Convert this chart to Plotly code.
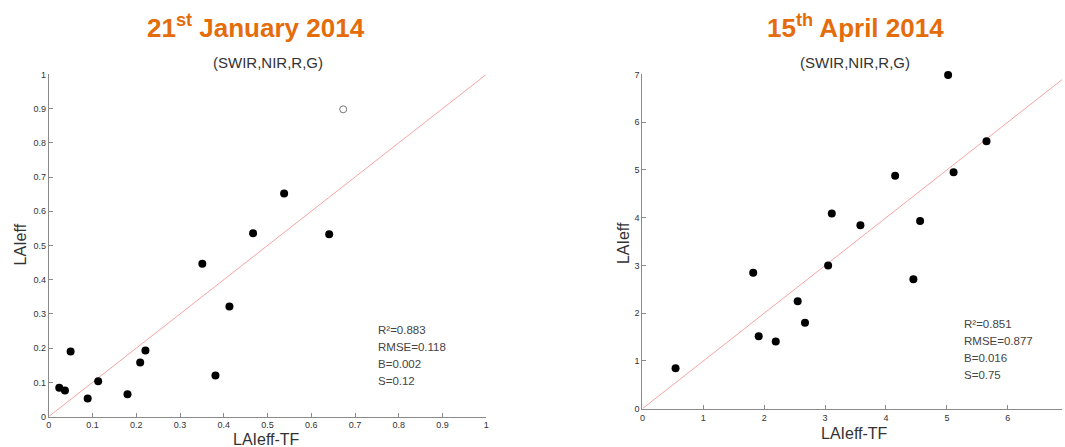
import plotly.graph_objects as go

# January 2014 acquisition: reference LAIeff-TF vs. estimated LAIeff
jan_tf = [0.024, 0.037, 0.050, 0.089, 0.113, 0.180, 0.209, 0.221, 0.351, 0.381, 0.413, 0.467, 0.538, 0.641]
jan_est = [0.084, 0.076, 0.190, 0.053, 0.103, 0.065, 0.158, 0.193, 0.447, 0.120, 0.322, 0.536, 0.652, 0.533]
# excluded point (drawn hollow)
jan_out_tf = [0.673]
jan_out_est = [0.898]
jan_stats = ["R²=0.883", "RMSE=0.118", "B=0.002", "S=0.12"]

# April 2014 acquisition
apr_tf = [0.545, 1.82, 1.91, 2.19, 2.55, 2.67, 3.05, 3.11, 3.58, 4.15, 4.56, 5.02, 5.11, 5.65, 4.45]
apr_est = [0.85, 2.85, 1.52, 1.41, 2.25, 1.80, 3.00, 4.09, 3.84, 4.88, 3.93, 6.99, 4.95, 5.60, 2.71]
apr_stats = ["R²=0.851", "RMSE=0.877", "B=0.016", "S=0.75"]

jan_ticks = [0, 0.1, 0.2, 0.3, 0.4, 0.5, 0.6, 0.7, 0.8, 0.9, 1]
apr_ticks = [0, 1, 2, 3, 4, 5, 6, 7]

W, H = 1065, 447
ORANGE = "#E46C0A"
AXIS = "#8a8a8a"
TXT = "#333333"
FONT = "Liberation Sans, Arial, sans-serif"

fig = go.Figure()

# 1:1 lines
fig.add_trace(go.Scatter(x=[0, 1], y=[0, 1], mode="lines",
                         line=dict(color="#F7A3A3", width=1), xaxis="x", yaxis="y"))
fig.add_trace(go.Scatter(x=[0, 7], y=[0, 7], mode="lines",
                         line=dict(color="#F7A3A3", width=1), xaxis="x2", yaxis="y2"))

# points
fig.add_trace(go.Scatter(x=jan_tf, y=jan_est, mode="markers", cliponaxis=False,
                         marker=dict(color="black", size=8), xaxis="x", yaxis="y"))
fig.add_trace(go.Scatter(x=jan_out_tf, y=jan_out_est, mode="markers", cliponaxis=False,
                         marker=dict(color="white", size=7, line=dict(color="#777", width=1)),
                         xaxis="x", yaxis="y"))
fig.add_trace(go.Scatter(x=apr_tf, y=apr_est, mode="markers", cliponaxis=False,
                         marker=dict(color="black", size=8), xaxis="x2", yaxis="y2"))

def px(x):
    return x / W

def py(y):
    return 1 - y / H

axis_common = dict(showgrid=False, zeroline=False, showline=True, linecolor=AXIS, linewidth=1,
                   ticks="inside", ticklen=4, tickcolor=AXIS,
                   tickfont=dict(size=9, color=TXT, family=FONT), mirror=False)

fig.update_layout(
    width=W, height=H, margin=dict(l=0, r=0, t=0, b=0),
    paper_bgcolor="white", plot_bgcolor="white", showlegend=False,
    font=dict(family=FONT, color=TXT),
    xaxis=dict(domain=[px(46), px(486)], range=[0, 1], tickvals=jan_ticks,
               anchor="y", **axis_common),
    yaxis=dict(domain=[py(421), py(71)], range=[0, 1], tickvals=jan_ticks,
               anchor="x", **axis_common),
    xaxis2=dict(domain=[px(643), 1], range=[0, 6.89], tickvals=apr_ticks,
                anchor="y2", **axis_common),
    yaxis2=dict(domain=[py(413), py(71)], range=[0, 7], tickvals=apr_ticks,
                anchor="x2", **axis_common),
)

ann = []
# titles
ann.append(dict(text="<b>21<sup>st</sup> January 2014</b>", x=px(254), y=py(22)))
ann.append(dict(text="<b>15<sup>th</sup> April 2014</b>", x=px(857), y=py(22)))
for a in ann:
    a.update(xref="paper", yref="paper", showarrow=False, xanchor="center", yanchor="middle",
             font=dict(size=26, color=ORANGE, family=FONT))

def add_text(text, x, y, size, **kw):
    d = dict(text=text, x=px(x), y=py(y), xref="paper", yref="paper", showarrow=False,
             xanchor=kw.pop("xanchor", "center"), yanchor="middle",
             font=dict(size=size, color=kw.pop("color", TXT), family=FONT))
    d.update(kw)
    ann.append(d)

add_text("(SWIR,NIR,R,G)", 266, 59, 15)
add_text("(SWIR,NIR,R,G)", 857, 59, 15)
add_text("LAIeff", 18, 245, 16, textangle=-90)
add_text("LAIeff", 624, 243, 16, textangle=-90)
add_text("LAIeff-TF", 265, 444, 16)
add_text("LAIeff-TF", 856, 438, 16)

for i, s in enumerate(jan_stats):
    add_text(s, 375, 332 + i * 17.6, 11.5, xanchor="left", color="#444")
for i, s in enumerate(apr_stats):
    add_text(s, 964, 326 + i * 17.6, 11.5, xanchor="left", color="#444")

fig.update_layout(annotations=ann)
fig.write_html("out.html")
